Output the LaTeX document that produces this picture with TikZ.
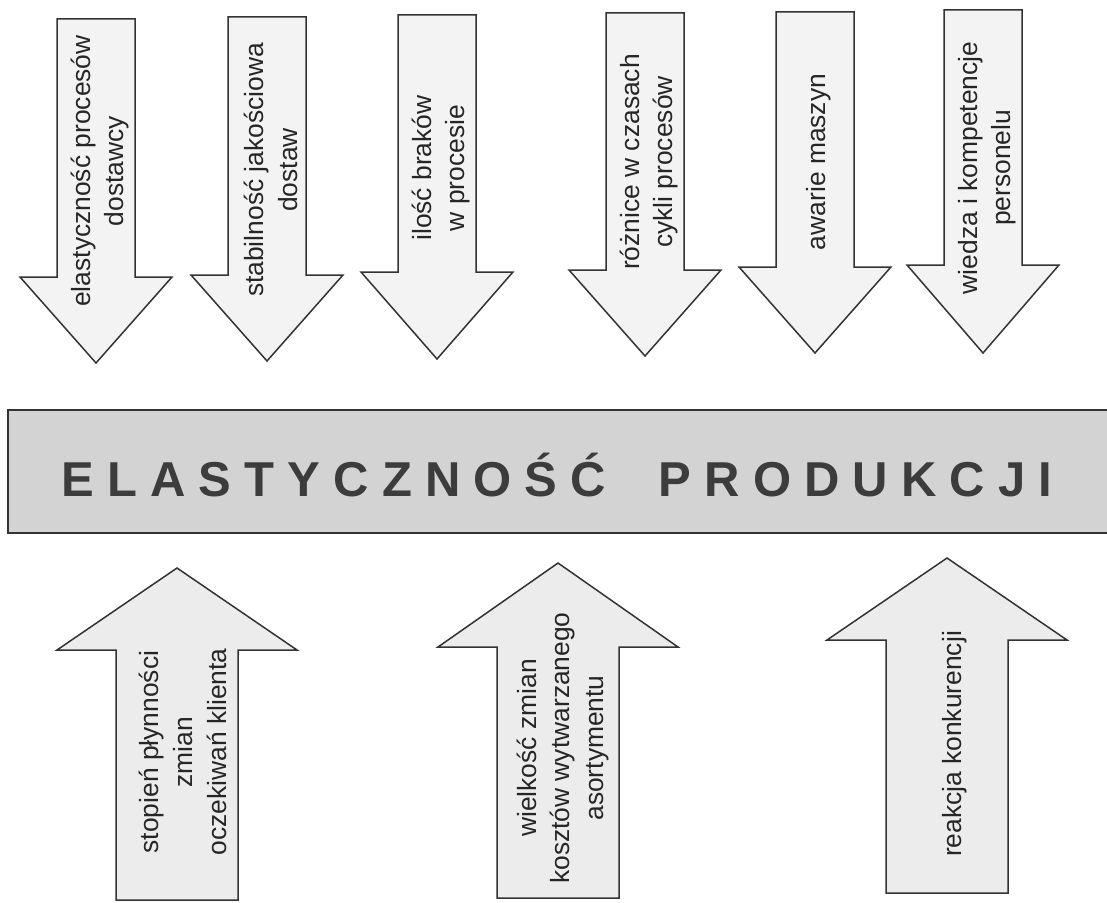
\documentclass[tikz,border=0pt]{standalone}
\usepackage{fontspec}
\setmainfont{Liberation Sans}
\usepackage{tikz}

\definecolor{bannergray}{HTML}{D3D3D3}
\definecolor{titlegray}{HTML}{3C3C3C}
\definecolor{inkgray}{HTML}{262626}
\definecolor{edgegray}{HTML}{333333}
\definecolor{lightfill}{HTML}{F3F3F3}
\definecolor{paperfill}{HTML}{ECECEC}

\tikzset{
  arrowbox/.style={draw=edgegray, line width=0.75pt, fill=lightfill, line join=miter},
  riserbox/.style={arrowbox, fill=paperfill},
  toplabel/.style={rotate=90, align=center, text=inkgray,
    font=\fontsize{13.2}{16.8}\selectfont},
  bannertext/.style={text=titlegray, inner sep=0pt,
    font=\fontsize{24.5}{28}\selectfont\bfseries}
}

% #1 centre x, #2 top, #3 head base, #4 tip
\newcommand{\factordown}[4]{%
  \draw[arrowbox] (#1-39,#2) -- (#1+39,#2) -- (#1+39,#3) -- (#1+76,#3)
    -- (#1,#4) -- (#1-76,#3) -- (#1-39,#3) -- cycle;}
% #1 centre x, #2 bottom, #3 head base, #4 tip
\newcommand{\factorup}[4]{%
  \draw[riserbox] (#1-61,#2) -- (#1+61,#2) -- (#1+61,#3) -- (#1+120,#3)
    -- (#1,#4) -- (#1-120,#3) -- (#1-61,#3) -- cycle;}

\begin{document}
\begin{tikzpicture}[x=0.5pt, y=0.5pt]
  \useasboundingbox (0,0) rectangle (1107,902);

  % Banner
  \fill[bannergray] (8,369) rectangle (1107,492);
  \draw[edgegray, line width=1.2pt] (1107,492) -- (8,492) -- (8,369) -- (1107,369);
  \node[bannertext] (title) at (557,427)
    {\makebox[495.5pt][s]{E\hfill L\hfill A\hfill S\hfill T\hfill Y\hfill C\hfill
     Z\hfill N\hfill O\hfill Ś\hfill Ć\hfill\ \hfill\hfill P\hfill R\hfill O\hfill
     D\hfill U\hfill K\hfill C\hfill J\hfill I}};

  % Arrows above
  \factordown{96}{883}{625}{539}
  \factordown{267}{885}{627}{541}
  \factordown{437}{887}{630}{543}
  \factordown{645}{889}{632}{546}
  \factordown{815}{890}{635}{549}
  \factordown{983}{892}{637}{549}

  % Arrows below
  \factorup{177}{2}{252}{334}
  \factorup{558}{4}{255}{339}
  \factorup{947}{9}{262}{344}

  % Labels above
  \node[toplabel] (supplier) at (100,731) {elastyczność procesów\\dostawcy};
  \node[toplabel] (quality) at (271,732) {stabilność jakościowa\\dostaw};
  \node[toplabel] (rejects) at (441,734) {ilość braków\\w procesie};
  \node[toplabel] (cycles) at (649,740) {różnice w czasach\\cykli procesów};
  \node[toplabel] (failures) at (819,740) {awarie maszyn};
  \node[toplabel] (staff) at (987,734) {wiedza i kompetencje\\personelu};

  % Labels below
  \node[toplabel] (customer) at (183,150) {stopień płynności\\zmian\\oczekiwań klienta};
  \node[toplabel] (range) at (563,154) {wielkość zmian\\kosztów wytwarzanego\\asortymentu};
  \node[toplabel] (rivals) at (955,158) {reakcja konkurencji};
\end{tikzpicture}
\end{document}
